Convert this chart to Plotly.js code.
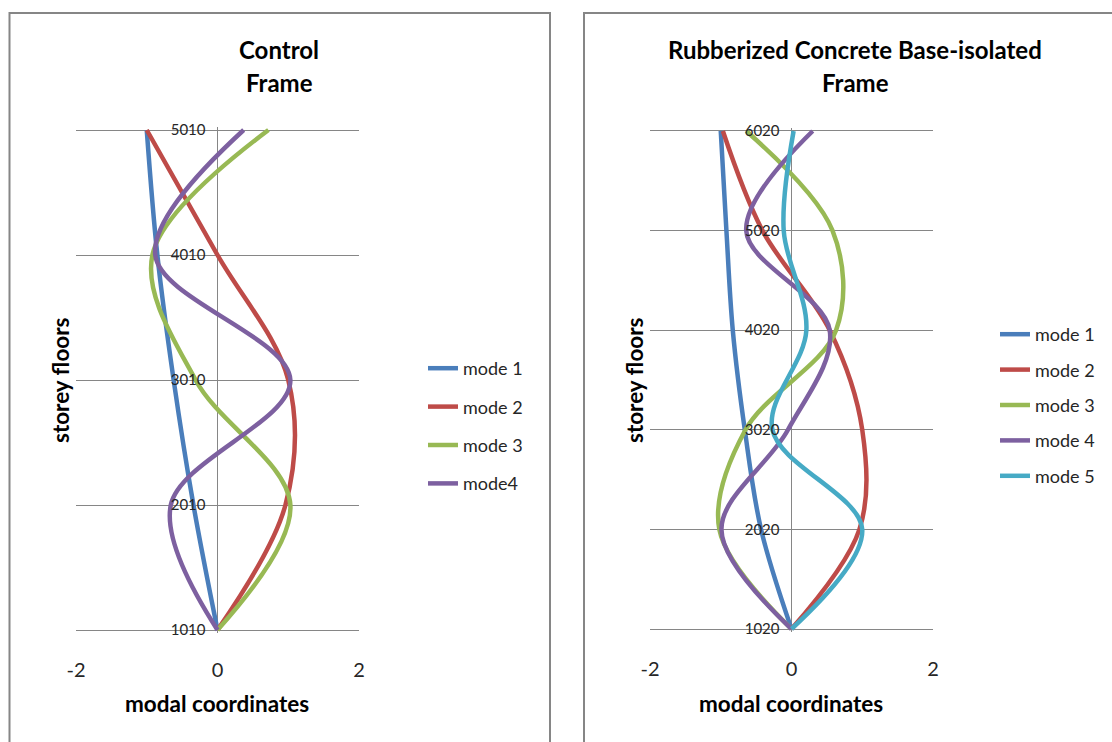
<!DOCTYPE html>
<html>
<head>
<meta charset="utf-8">
<script src="https://cdn.plot.ly/plotly-3.0.1.min.js"></script>
<style>
html,body{margin:0;padding:0;background:#fff;}
#chart{width:1112px;height:742px;}
</style>
</head>
<body>
<div id="chart"></div>
<script>
// ---------- DATA ----------
const controlFloors = [1010, 2010, 3010, 4010, 5010];
const controlMode1 = [0, -0.34, -0.62, -0.85, -1.0];
const controlMode2 = [0, 0.96, 1.0, 0.0, -1.0];
const controlMode3 = [0, 1.03, -0.31, -0.92, 0.72];
const controlMode4 = [0, -0.66, 1.03, -0.88, 0.37];
const controlNames = ["mode 1", "mode 2", "mode 3", "mode4"];

const rubberFloors = [1020, 2020, 3020, 4020, 5020, 6020];
const rubberMode1 = [0, -0.43, -0.66, -0.83, -0.92, -1.0];
const rubberMode2 = [0, 0.96, 1.0, 0.54, -0.41, -0.97];
const rubberMode3 = [0, -1.02, -0.65, 0.63, 0.58, -0.64];
const rubberMode4 = [0, -0.99, -0.05, 0.54, -0.64, 0.30];
const rubberMode5 = [0, 1.0, -0.27, 0.21, -0.11, 0.03];
const rubberNames = ["mode 1", "mode 2", "mode 3", "mode 4", "mode 5"];

const xTicks = [-2, 0, 2];
const titleLeft = ["Control", "Frame"];
const titleRight = ["Rubberized Concrete Base-isolated", "Frame"];
const xTitle = "modal coordinates";
const yTitle = "storey floors";

// ---------- STYLE ----------
const W = 1112, H = 742;
const px = x => x / W;
const py = y => 1 - y / H;
const colors = ["#4A7EBB", "#BE4B48", "#98B954", "#7D60A0", "#46AAC5"];
const FONT = "Lato, 'Liberation Sans', sans-serif";
const TXT = "#262626";
const GRID = "#868686";

const traces = [];
[controlMode1, controlMode2, controlMode3, controlMode4].forEach((vals, i) => {
  traces.push({
    x: vals, y: controlFloors, type: "scatter", mode: "lines",
    name: controlNames[i], legendgroup: "c" + i, legend: "legend",
    xaxis: "x", yaxis: "y",
    line: {color: colors[i], width: 4.5, shape: "spline", smoothing: 1},
    hoverinfo: "skip"
  });
});
[rubberMode1, rubberMode2, rubberMode3, rubberMode4, rubberMode5].forEach((vals, i) => {
  traces.push({
    x: vals, y: rubberFloors, type: "scatter", mode: "lines",
    name: rubberNames[i], legendgroup: "r" + i, legend: "legend2",
    xaxis: "x2", yaxis: "y2",
    line: {color: colors[i], width: 4.5, shape: "spline", smoothing: 1},
    hoverinfo: "skip"
  });
});

const xDomL = [px(76), px(359)];
const xDomR = [px(650), px(933)];

function xAxis(domain, anchor) {
  return {
    domain: domain, range: [-2, 2], anchor: anchor,
    tickvals: xTicks, ticktext: xTicks.map(String),
    showgrid: false, showline: false,
    zeroline: true, zerolinecolor: GRID, zerolinewidth: 1,
    ticks: "outside", ticklen: 19, tickcolor: "rgba(0,0,0,0)",
    tickfont: {family: FONT, size: 20, color: TXT},
    fixedrange: true
  };
}
function yAxis(domain, range, tickvals, xdom) {
  return {
    domain: domain, range: range, anchor: "free",
    position: (xdom[0] + xdom[1]) / 2,
    tickvals: tickvals, ticktext: tickvals.map(String),
    showgrid: true, gridcolor: GRID, gridwidth: 1,
    showline: false, zeroline: false,
    ticks: "outside", ticklen: 9, tickcolor: "rgba(0,0,0,0)",
    tickfont: {family: FONT, size: 15, color: TXT},
    fixedrange: true
  };
}

const annotations = [];
function addText(text, x, y, size, angle) {
  annotations.push({
    text: "<b>" + text + "</b>", xref: "paper", yref: "paper",
    x: px(x), y: py(y), xanchor: "center", yanchor: "middle",
    showarrow: false, textangle: angle || 0,
    font: {family: FONT, size: size, color: "#000"}
  });
}
addText(titleLeft[0], 279, 50, 24);
addText(titleLeft[1], 279, 82, 24);
addText(titleRight[0], 855, 50, 24);
addText(titleRight[1], 855, 82, 24);
addText(xTitle, 217, 703, 22.5);
addText(xTitle, 791, 703, 22.5);
addText(yTitle, 60, 380, 22.5, -90);
addText(yTitle, 634, 380, 22.5, -90);

const shapes = [
  {type: "rect", xref: "paper", yref: "paper", x0: px(9.5), x1: px(550), y0: py(760), y1: py(13),
   line: {color: GRID, width: 2}, fillcolor: "rgba(0,0,0,0)"},
  {type: "rect", xref: "paper", yref: "paper", x0: px(584), x1: px(1130), y0: py(760), y1: py(13),
   line: {color: GRID, width: 2}, fillcolor: "rgba(0,0,0,0)"}
];

const layout = {
  width: W, height: H,
  margin: {l: 0, r: 0, t: 0, b: 0},
  paper_bgcolor: "#fff", plot_bgcolor: "rgba(0,0,0,0)",
  font: {family: FONT, color: TXT},
  xaxis: xAxis(xDomL, "y"),
  yaxis: yAxis([py(633), py(127)], [986, 5034], controlFloors, xDomL),
  xaxis2: xAxis(xDomR, "y2"),
  yaxis2: yAxis([py(632), py(128)], [990, 6050], rubberFloors, xDomR),
  legend: {x: px(423), y: py(350), xanchor: "left", yanchor: "top",
    font: {family: FONT, size: 18, color: TXT}, tracegroupgap: 12,
    bgcolor: "rgba(0,0,0,0)"},
  legend2: {x: px(995), y: py(316), xanchor: "left", yanchor: "top",
    font: {family: FONT, size: 18, color: TXT}, tracegroupgap: 9,
    bgcolor: "rgba(0,0,0,0)"},
  showlegend: true,
  annotations: annotations,
  shapes: shapes
};

Plotly.newPlot("chart", traces, layout, {displayModeBar: false, staticPlot: true});
</script>
</body>
</html>
